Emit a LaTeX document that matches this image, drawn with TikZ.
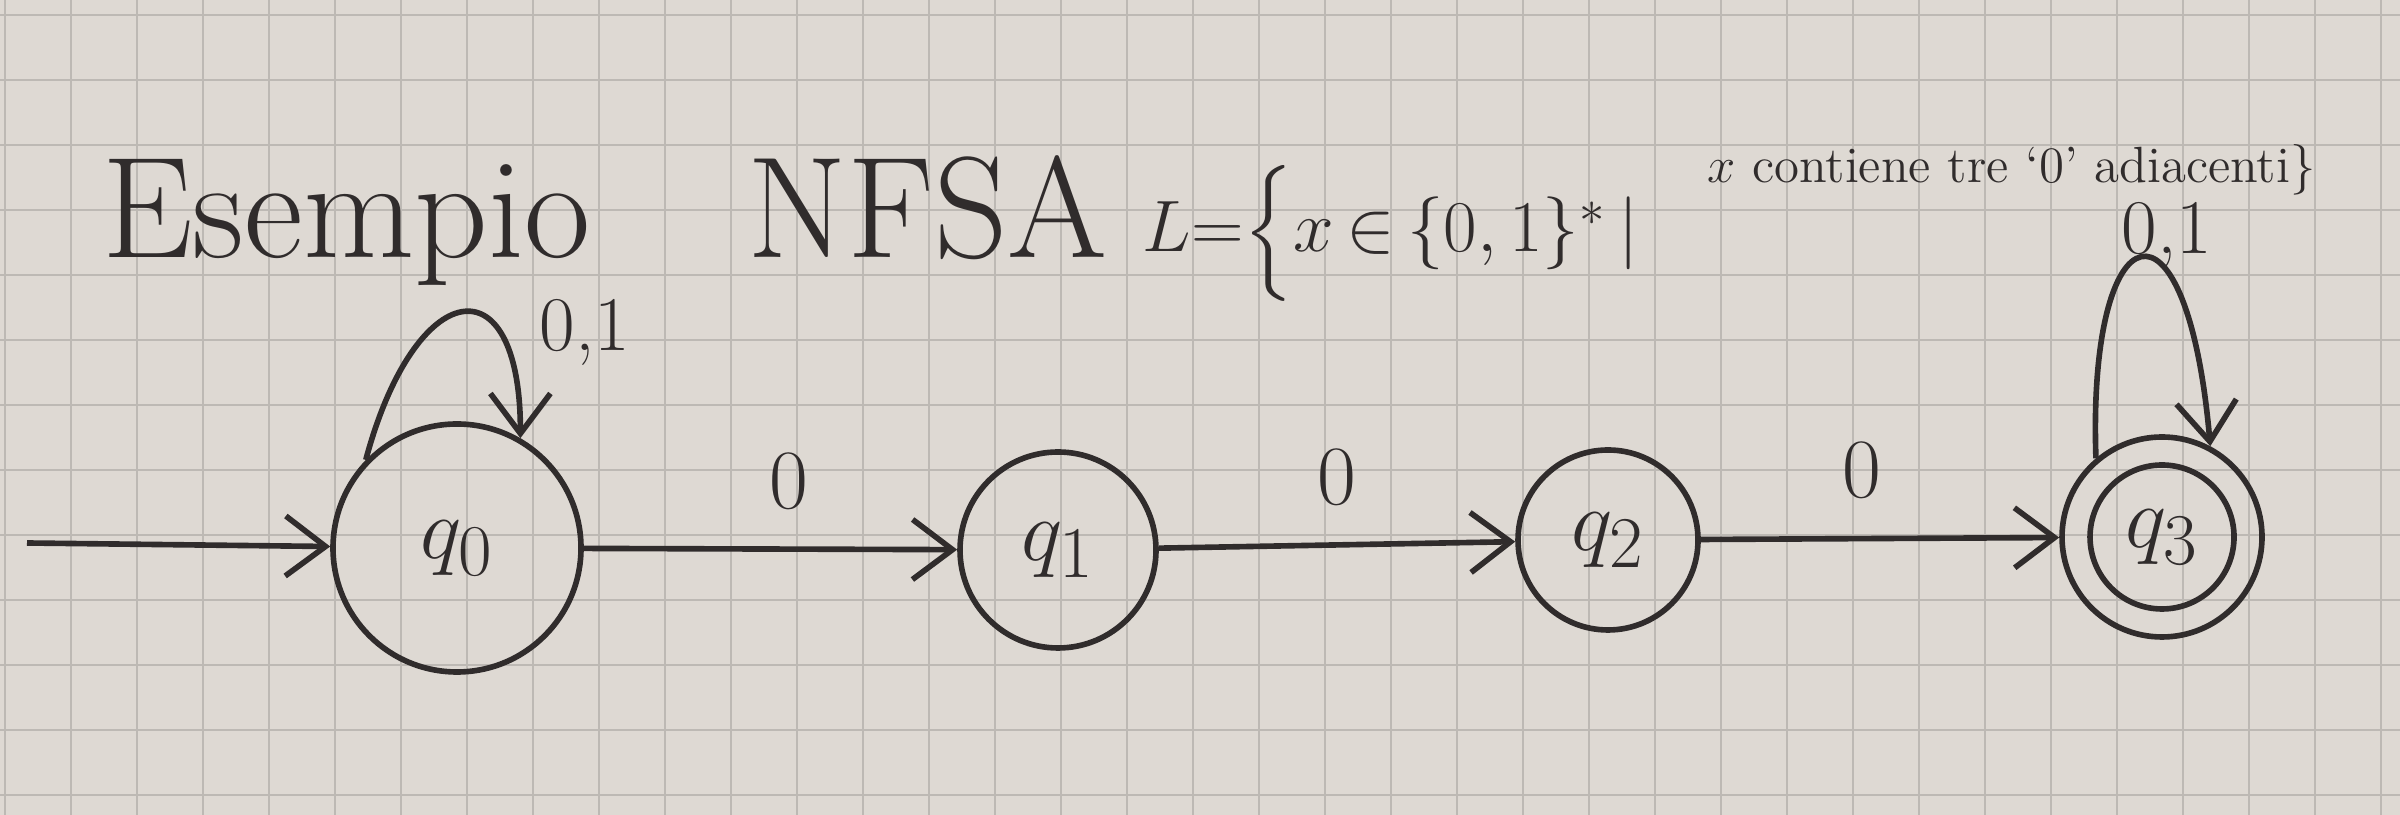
\documentclass[tikz,border=0pt]{standalone}
\usepackage{amssymb}
\usepackage{amsmath}
\usepackage{tikz}
\usetikzlibrary{arrows.meta}

\definecolor{paper}{RGB}{222,217,211}
\definecolor{gridgray}{RGB}{189,185,180}
\definecolor{ink}{RGB}{48,44,44}

\begin{document}
\begin{tikzpicture}[
    >={Straight Barb[length=4mm,width=6mm]},
    state/.style={circle,draw=ink,line width=1.6pt,inner sep=0pt,text=ink,font=\fontsize{28}{32}\selectfont},
    trans/.style={->,draw=ink,line width=1.6pt},
    lab/.style={text=ink,font=\fontsize{24}{28}\selectfont},
    title/.style={anchor=base west,text=ink,font=\fontsize{41}{48}\selectfont}
  ]
    \useasboundingbox (0,0) rectangle (24,8.15);
    \fill[paper] (0,0) rectangle (24,8.15);
    \begin{scope}
      \clip (0,0) rectangle (24,8.15);
      \draw[gridgray,line width=0.8pt,shift={(0.05,0.2)}] (-1,-1) grid[xstep=0.66,ystep=0.65] (25,9);
    \end{scope}
    % titolo
    \node[title] (esempio) at (0.9,5.57) {Esempio};
    \node[title] (nfsa) at (7.35,5.57) {NFSA};
    \node[title,font=\fontsize{21.5}{26}\selectfont] (lang) at (11.3,5.63) {$L{=}\Bigl\{x{\,\in\,}\{0,1\}^*{\,\mid\,}$};
    \node[title,font=\fontsize{14.5}{17}\selectfont] (cond) at (16.95,6.32) {$x$ contiene tre `0' adiacenti$\}$};
    % stati
    \node[state,minimum size=2.48cm] (q0) at (4.57,2.67) {$q_0$};
    \node[state,minimum size=1.96cm] (q1) at (10.58,2.65) {$q_1$};
    \node[state,minimum size=1.8cm] (q2) at (16.08,2.75) {$q_2$};
    \node[state,minimum size=2.0cm] (q3) at (21.62,2.78) {$q_3$};
    \draw[ink,line width=1.6pt] (q3.center) circle[radius=0.72];
    \coordinate (init) at (0.27,2.72);
    % transizioni
    \draw[trans] (init) -- (q0);
    \draw[trans] (q0) -- node[lab,above=2.5mm,pos=0.55] (l01) {0} (q1);
    \draw[trans] (q1) -- node[lab,above=2.5mm,pos=0.5] (l12) {0} (q2);
    \draw[trans] (q2) -- node[lab,above=2.5mm,pos=0.45] (l23) {0} (q3);
    \draw[trans] (q0.136) .. controls +(75:1.9) and +(90:1.8) .. (q0.60);
    \node[lab,font=\fontsize{22}{26}\selectfont] (l00) at (5.85,4.83) {0,1};
    \draw[trans] (q3.130) .. controls +(92:2.5) and +(95:2.7) .. (q3.62);
    \node[lab,font=\fontsize{22}{26}\selectfont] (l33) at (21.67,5.8) {0,1};
\end{tikzpicture}
\end{document}
